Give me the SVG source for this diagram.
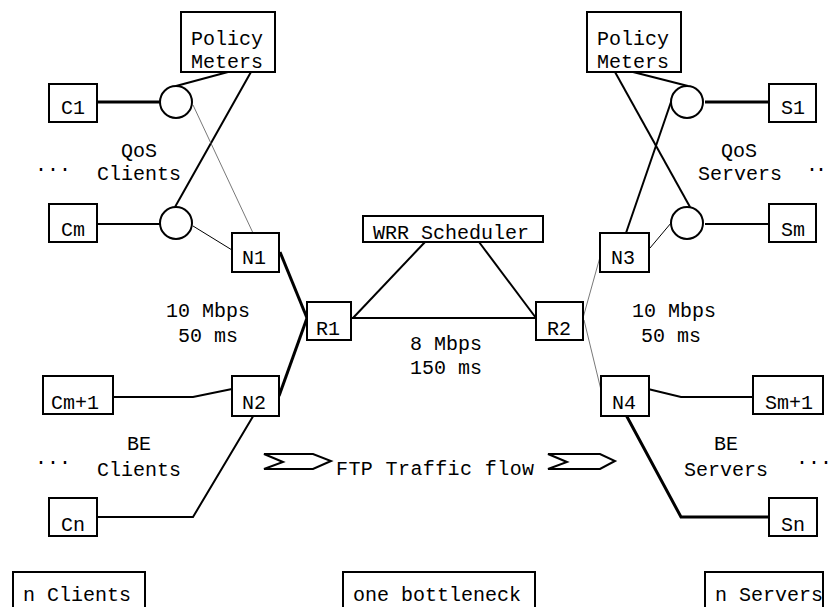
<svg xmlns="http://www.w3.org/2000/svg" width="828" height="607" viewBox="0 0 828 607">
<style>
text{font-family:"Liberation Mono","Courier New",monospace;font-size:20px;fill:#000}
.box{fill:#fff;stroke:#000;stroke-width:2}
.circ{fill:#fff;stroke:#000;stroke-width:2}
.l2{fill:none;stroke:#000;stroke-width:2}
.l3{fill:none;stroke:#000;stroke-width:3}
.l1{fill:none;stroke:#000;stroke-width:1}
.l05{fill:none;stroke:#555;stroke-width:0.8}
.arr{fill:#fff;stroke:#000;stroke-width:2;stroke-linejoin:miter}
</style>
<g id="connectors">
<line class="l3" x1="97" y1="102" x2="160" y2="102"/>
<line class="l2" x1="97" y1="224" x2="160" y2="224"/>
<line class="l2" x1="176" y1="86" x2="228" y2="72"/>
<line class="l2" x1="175" y1="207" x2="251" y2="72"/>
<line class="l05" x1="193" y1="105" x2="253" y2="233"/>
<line class="l1" x1="193" y1="226" x2="232" y2="250"/>
<line class="l3" x1="280" y1="252" x2="307" y2="318"/>
<line class="l3" x1="279" y1="396" x2="307" y2="318"/>
<polyline class="l2" points="113,397 193,397 232,389"/>
<polyline class="l2" points="96,517 193,517 255,413"/>
<line class="l2" x1="351" y1="318" x2="536" y2="318"/>
<line class="l2" x1="353" y1="318" x2="425" y2="242"/>
<line class="l2" x1="536" y1="318" x2="479" y2="242"/>
<line class="l3" x1="705" y1="102" x2="769" y2="102"/>
<line class="l2" x1="705" y1="224" x2="769" y2="224"/>
<line class="l2" x1="688" y1="86" x2="633" y2="72"/>
<line class="l2" x1="690" y1="207" x2="615" y2="72"/>
<line class="l2" x1="626" y1="233" x2="671" y2="102"/>
<line class="l1" x1="650" y1="248" x2="671" y2="223"/>
<line class="l05" x1="583" y1="318" x2="600" y2="257"/>
<line class="l05" x1="584" y1="320" x2="601" y2="390"/>
<polyline class="l2" points="648,389 681,397 753,397"/>
<polyline class="l3" points="625,413 681,517 769,517"/>
</g>
<g id="pm-left"><rect class="box" x="181" y="12" width="94" height="60"/><text x="191" y="45">Policy</text><text x="191" y="68">Meters</text></g>
<g id="pm-right"><rect class="box" x="587" y="12" width="94" height="60"/><text x="597" y="45">Policy</text><text x="597" y="68">Meters</text></g>
<g id="c1"><rect class="box" x="49" y="84" width="48" height="38"/><text x="61" y="114">C1</text></g>
<g id="cm"><rect class="box" x="49" y="204" width="48" height="38"/><text x="61" y="236">Cm</text></g>
<g id="meter-c1"><circle class="circ" cx="176" cy="102" r="16"/></g>
<g id="meter-cm"><circle class="circ" cx="176" cy="223" r="16"/></g>
<g id="n1"><rect class="box" x="232" y="233" width="47" height="39"/><text x="242" y="264">N1</text></g>
<g id="n2"><rect class="box" x="232" y="376" width="47" height="40"/><text x="242" y="409">N2</text></g>
<g id="r1"><rect class="box" x="307" y="302" width="44" height="38"/><text x="316" y="335">R1</text></g>
<g id="r2"><rect class="box" x="536" y="302" width="47" height="38"/><text x="547" y="335">R2</text></g>
<g id="wrr"><rect class="box" x="363" y="216" width="180" height="26"/><text x="373" y="239">WRR Scheduler</text></g>
<g id="cm1"><rect class="box" x="43" y="376" width="70" height="38"/><text x="51" y="409">Cm+1</text></g>
<g id="cn"><rect class="box" x="49" y="498" width="48" height="38"/><text x="61" y="531">Cn</text></g>
<g id="s1"><rect class="box" x="769" y="84" width="47" height="38"/><text x="781" y="114">S1</text></g>
<g id="sm"><rect class="box" x="769" y="204" width="47" height="38"/><text x="781" y="236">Sm</text></g>
<g id="meter-s1"><circle class="circ" cx="687" cy="102" r="16"/></g>
<g id="meter-sm"><circle class="circ" cx="687" cy="223" r="16"/></g>
<g id="n3"><rect class="box" x="600" y="233" width="49" height="39"/><text x="611" y="264">N3</text></g>
<g id="n4"><rect class="box" x="601" y="376" width="48" height="40"/><text x="612" y="409">N4</text></g>
<g id="sm1"><rect class="box" x="753" y="376" width="70" height="38"/><text x="765" y="409">Sm+1</text></g>
<g id="sn"><rect class="box" x="769" y="498" width="48" height="38"/><text x="781" y="531">Sn</text></g>
<g id="labels">
<text x="121" y="157">QoS</text><text x="97" y="180">Clients</text>
<text x="35" y="171">...</text>
<text x="721" y="157">QoS</text><text x="698" y="180">Servers</text>
<text x="806" y="171" letter-spacing="-3">...</text>
<text x="166" y="317">10 Mbps</text><text x="178" y="342">50 ms</text>
<text x="632" y="317">10 Mbps</text><text x="641" y="342">50 ms</text>
<text x="410" y="350">8 Mbps</text><text x="410" y="374">150 ms</text>
<text x="127" y="450">BE</text><text x="97" y="476">Clients</text>
<text x="35" y="464">...</text>
<text x="714" y="450">BE</text><text x="684" y="476">Servers</text>
<text x="796" y="464">...</text>
<text x="336" y="475" letter-spacing="0.4">FTP Traffic flow</text>
</g>
<g id="flow-arrows">
<polygon class="arr" points="264,454 313,454 331,461 313,469 264,469 283,462"/>
<polygon class="arr" points="548,454 600,454 615,461 600,469 548,469 567,462"/>
</g>
<g id="n-clients"><rect class="box" x="13" y="572" width="132" height="40"/><text x="23" y="601">n Clients</text></g>
<g id="bottleneck"><rect class="box" x="343" y="572" width="192" height="40"/><text x="353" y="601">one bottleneck</text></g>
<g id="n-servers"><rect class="box" x="705" y="572" width="118" height="40"/><text x="715" y="601">n Servers</text></g>
</svg>
